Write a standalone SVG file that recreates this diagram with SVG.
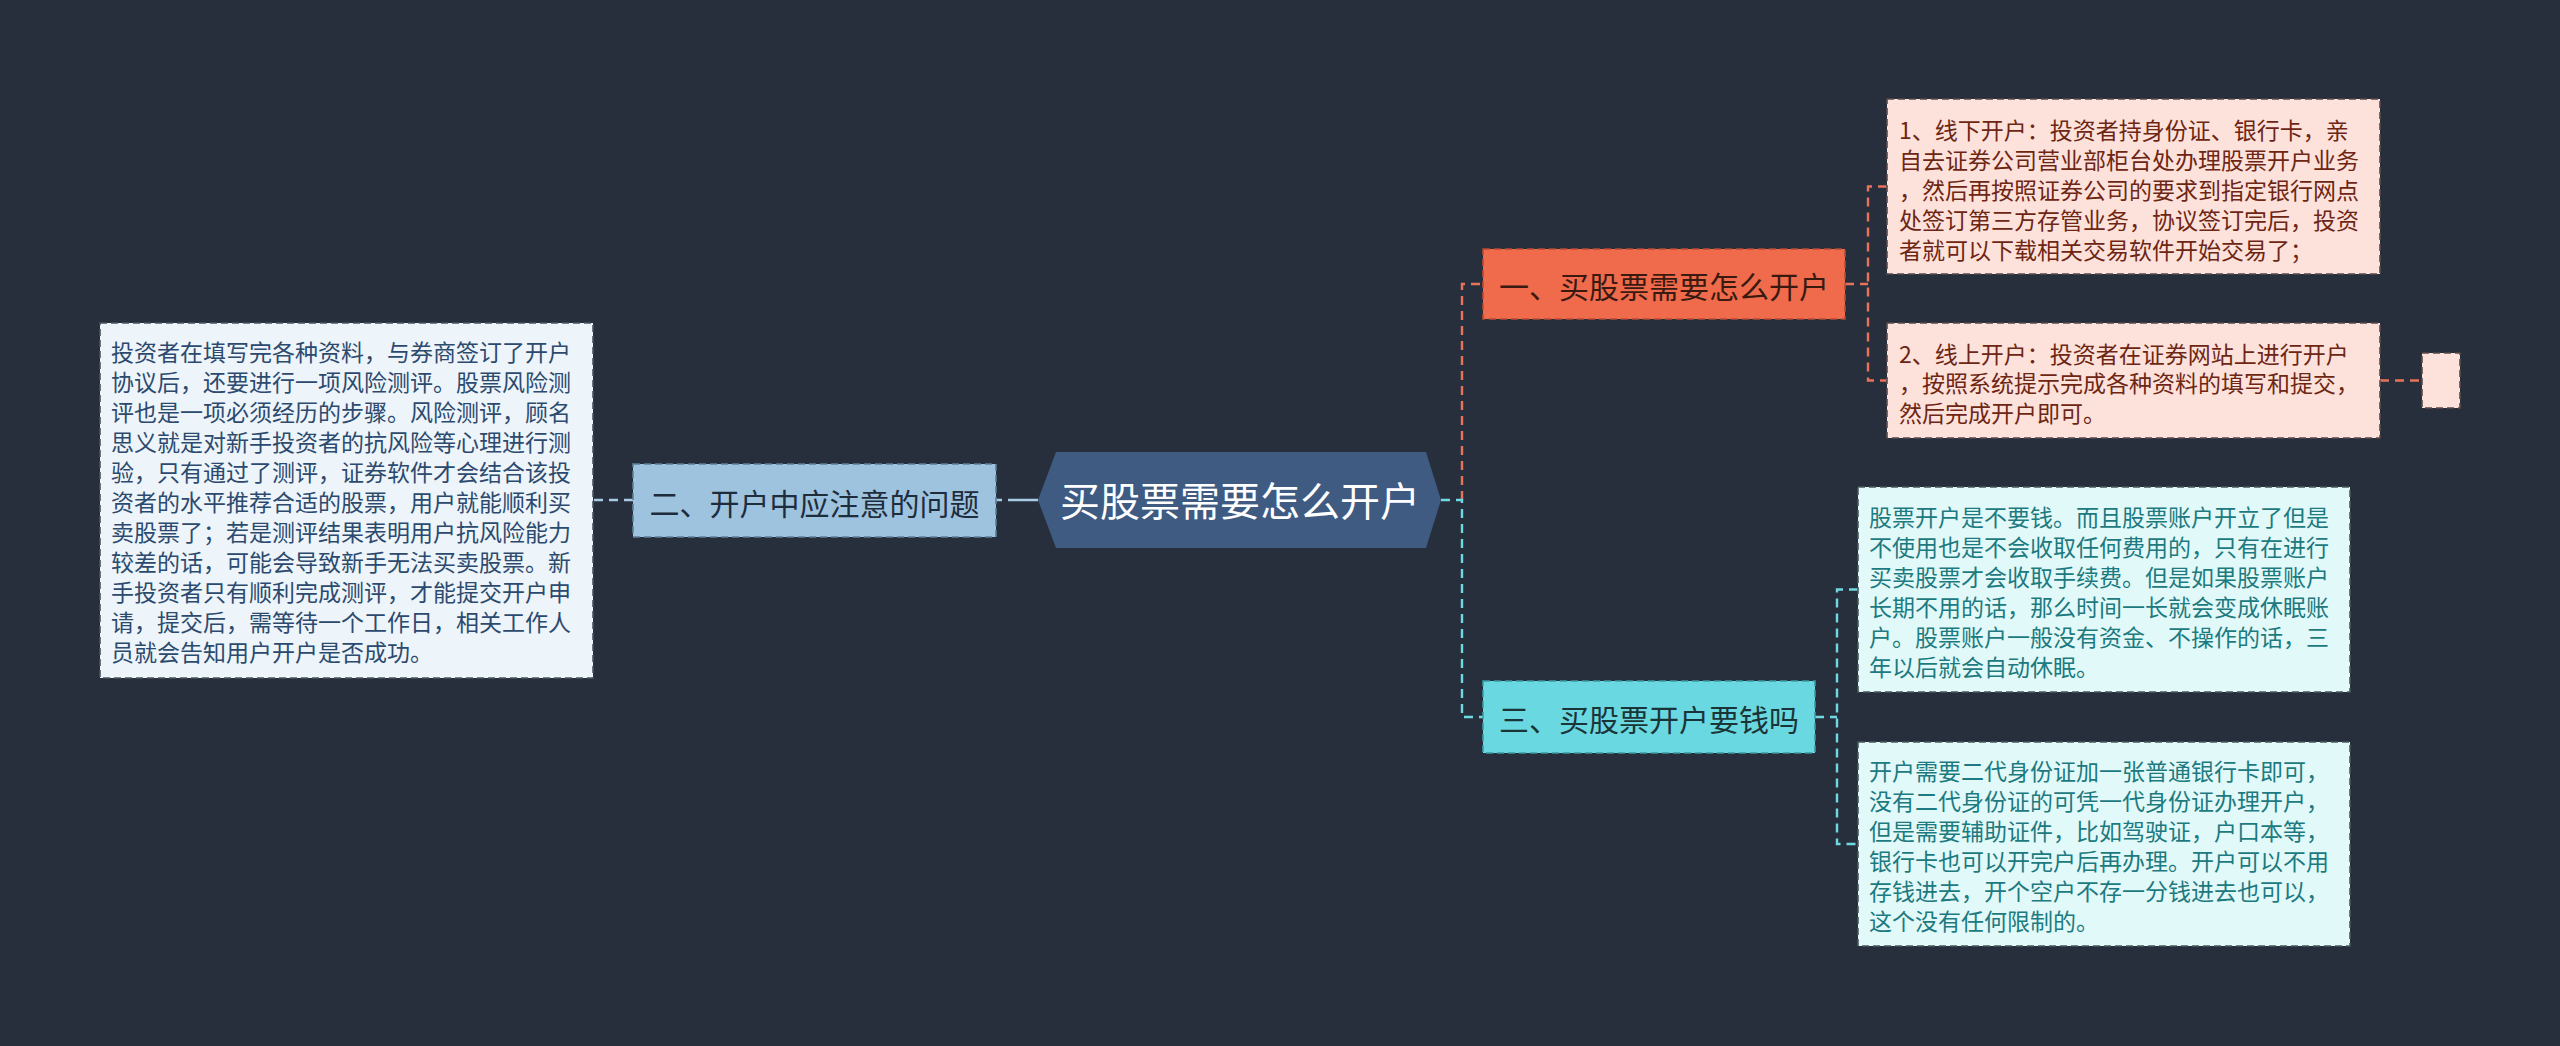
<svg xmlns="http://www.w3.org/2000/svg" width="2560" height="1046" viewBox="0 0 2560 1046">
<style>
text{font-family:"Noto Sans CJK SC","Noto Sans",sans-serif;dominant-baseline:central}
.br{font-size:30px}
.lf{font-size:23px}
.c{fill:none;stroke-width:2.4;stroke-dasharray:9 6}
.bd{stroke-width:1.6;stroke-dasharray:7 4}
</style>
<rect width="2560" height="1046" fill="#272f3d"/>
<g id="connectors">
<path class="c" stroke="#e8735a" d="M1462,500 V284 H1483"/>
<path class="c" stroke="#6fd9e2" d="M1441,500 H1462 V717 H1483"/>
<path class="c" stroke="#a9cbe3" d="M1038,500 H996" style="stroke-dasharray:30 6"/>
<path class="c" stroke="#a9cbe3" d="M633,500 H593"/>
<path class="c" stroke="#e8735a" d="M1845,284 H1868 M1887,186.5 H1868 V380.5 H1887"/>
<path class="c" stroke="#e8735a" d="M2380,380.5 H2422"/>
<path class="c" stroke="#6fd9e2" d="M1815,717 H1837 M1858,589.5 H1837 V844 H1858"/>
</g>
<g id="root">
<polygon points="1038,500 1056,452 1426,452 1441,500 1426,548 1056,548" fill="#3f5b82"/>
<text x="1240" y="499" font-size="40" fill="#ffffff" text-anchor="middle">买股票需要怎么开户</text>
</g>
<g id="n1">
<rect x="1483" y="249" width="362" height="70" fill="#ef6b4c" stroke="#b84a32" class="bd"/>
<text class="br" x="1664" y="285" fill="#3a1a10" text-anchor="middle">一、买股票需要怎么开户</text>
</g>
<g id="n2">
<rect x="633" y="464" width="363" height="73" fill="#9dc3df" stroke="#5f7f98" class="bd"/>
<text class="br" x="814.5" y="502" fill="#1f2c3b" text-anchor="middle">二、开户中应注意的问题</text>
</g>
<g id="n3">
<rect x="1483" y="681" width="332" height="72" fill="#6ad8e0" stroke="#3c9aa2" class="bd"/>
<text class="br" x="1649" y="718" fill="#1a3538" text-anchor="middle">三、买股票开户要钱吗</text>
</g>
<g id="leaf1">
<rect x="1887" y="99" width="493" height="175" fill="#fde2db" stroke="#5a4a4a" class="bd"/>
<text class="lf" fill="#6e2614">
<tspan x="1899" y="128.5">1、线下开户：投资者持身份证、银行卡，亲</tspan>
<tspan x="1899" y="158.7">自去证券公司营业部柜台处办理股票开户业务</tspan>
<tspan x="1899" y="188.9">，然后再按照证券公司的要求到指定银行网点</tspan>
<tspan x="1899" y="219.1">处签订第三方存管业务，协议签订完后，投资</tspan>
<tspan x="1899" y="249.3">者就可以下载相关交易软件开始交易了；</tspan>
</text>
</g>
<g id="leaf2">
<rect x="1887" y="323" width="493" height="115" fill="#fde2db" stroke="#5a4a4a" class="bd"/>
<text class="lf" fill="#6e2614">
<tspan x="1899" y="352.5">2、线上开户：投资者在证券网站上进行开户</tspan>
<tspan x="1899" y="382">，按照系统提示完成各种资料的填写和提交，</tspan>
<tspan x="1899" y="411.5">然后完成开户即可。</tspan>
</text>
</g>
<g id="leaf2b">
<rect x="2422" y="353" width="38" height="55" fill="#fde2db" stroke="#5a4a4a" class="bd"/>
</g>
<g id="leaf3">
<rect x="100" y="323" width="493" height="355" fill="#edf4fa" stroke="#4a5560" class="bd"/>
<text class="lf" fill="#2c4a6e">
<tspan x="111" y="351">投资者在填写完各种资料，与券商签订了开户</tspan>
<tspan x="111" y="381">协议后，还要进行一项风险测评。股票风险测</tspan>
<tspan x="111" y="411">评也是一项必须经历的步骤。风险测评，顾名</tspan>
<tspan x="111" y="441">思义就是对新手投资者的抗风险等心理进行测</tspan>
<tspan x="111" y="471">验，只有通过了测评，证券软件才会结合该投</tspan>
<tspan x="111" y="501">资者的水平推荐合适的股票，用户就能顺利买</tspan>
<tspan x="111" y="531">卖股票了；若是测评结果表明用户抗风险能力</tspan>
<tspan x="111" y="561">较差的话，可能会导致新手无法买卖股票。新</tspan>
<tspan x="111" y="591">手投资者只有顺利完成测评，才能提交开户申</tspan>
<tspan x="111" y="621">请，提交后，需等待一个工作日，相关工作人</tspan>
<tspan x="111" y="651">员就会告知用户开户是否成功。</tspan>
</text>
</g>
<g id="leaf4">
<rect x="1858" y="487" width="492" height="205" fill="#e2f9f9" stroke="#4a5a5c" class="bd"/>
<text class="lf" fill="#1c7a80">
<tspan x="1869" y="516">股票开户是不要钱。而且股票账户开立了但是</tspan>
<tspan x="1869" y="546">不使用也是不会收取任何费用的，只有在进行</tspan>
<tspan x="1869" y="576">买卖股票才会收取手续费。但是如果股票账户</tspan>
<tspan x="1869" y="606">长期不用的话，那么时间一长就会变成休眠账</tspan>
<tspan x="1869" y="636">户。股票账户一般没有资金、不操作的话，三</tspan>
<tspan x="1869" y="666">年以后就会自动休眠。</tspan>
</text>
</g>
<g id="leaf5">
<rect x="1858" y="742" width="492" height="204" fill="#e2f9f9" stroke="#4a5a5c" class="bd"/>
<text class="lf" fill="#1c7a80">
<tspan x="1869" y="770">开户需要二代身份证加一张普通银行卡即可，</tspan>
<tspan x="1869" y="800">没有二代身份证的可凭一代身份证办理开户，</tspan>
<tspan x="1869" y="830">但是需要辅助证件，比如驾驶证，户口本等，</tspan>
<tspan x="1869" y="860">银行卡也可以开完户后再办理。开户可以不用</tspan>
<tspan x="1869" y="890">存钱进去，开个空户不存一分钱进去也可以，</tspan>
<tspan x="1869" y="920">这个没有任何限制的。</tspan>
</text>
</g>
</svg>
